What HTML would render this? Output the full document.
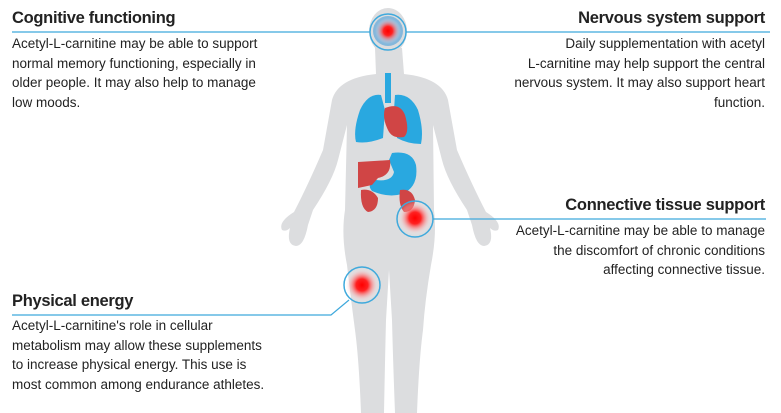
<!DOCTYPE html>
<html><head><style>
body{margin:0;width:781px;height:413px;background:#fff;overflow:hidden;position:relative;font-family:"Liberation Sans",sans-serif;color:#222}
.t{position:absolute;font-weight:bold;font-size:16.5px;letter-spacing:-0.3px}
.p{position:absolute;font-size:13.5px;line-height:19.7px}
.r{text-align:right}
svg{position:absolute;left:0;top:0}
</style></head><body>
<svg width="781" height="413" viewBox="0 0 781 413">
<defs>
<radialGradient id="g"><stop offset="0" stop-color="#f00"/><stop offset="0.35" stop-color="#f22"/><stop offset="1" stop-color="#fff" stop-opacity="0"/></radialGradient>
</defs>
<g fill="#dcdddf">
<ellipse cx="388" cy="31" rx="19" ry="23"/>
<path d="M375 48 L402 48 L404 74 Q442 78 448 100 L457 150 Q472 185 486 212 Q502 222 498 230 Q494 232 490 228 Q494 245 484 246 Q476 246 472 225 L467 210 Q447 180 442 160 L433 125 L434 210 Q437 235 431 265 Q425 300 423 330 Q419 360 417 413 L395 413 Q393 360 392 320 L389 270 L386 320 Q385 360 384 413 L361 413 Q359 360 355 330 Q351 300 347 265 Q341 235 345 210 L347 125 L338 160 Q333 180 313 210 L308 225 Q304 246 296 246 Q286 245 290 228 Q286 232 282 230 Q278 222 294 212 Q308 185 323 150 L332 100 Q338 78 376 74 Z"/>
</g>
<g fill="#29a8e0">
<rect x="385" y="73" width="6" height="30"/>
<path d="M381 95 Q368 93 360 110 Q353 130 356 142 Q368 144 383 138 L385 110 Z"/>
<path d="M395 95 Q410 93 418 110 Q424 130 421 144 Q408 144 397 138 L394 110 Z"/>
<path d="M392 153 Q412 150 416 165 Q419 187 402 194 Q388 198 372 191 Q366 184 376 180 Q392 182 394 172 L389 160 Z"/>
</g>
<g fill="#d04545">
<path d="M385 108 Q400 102 405 115 Q410 132 404 137 Q392 139 388 130 Q382 118 385 108 Z"/>
<path d="M358 162 L390 160 Q392 175 378 178 L372 185 L358 188 Z"/>
<path d="M361 190 Q372 188 378 198 Q378 211 368 212 Q360 208 361 190 Z"/>
<path d="M400 190 Q412 188 415 200 Q414 212 404 212 Q398 205 400 190 Z"/>
</g>
<g fill="none" stroke="#3fa9dc" stroke-width="1.2">
<line x1="12" y1="32" x2="370" y2="32"/>
<line x1="406" y1="32" x2="770" y2="32"/>
<line x1="433" y1="219" x2="766" y2="219"/>
<polyline points="349,300 331,315 12,315"/>
</g>
<circle cx="388" cy="31" r="15" fill="#4a9fd8" opacity="0.6"/>
<circle cx="388" cy="31" r="13" fill="url(#g)"/>
<circle cx="415" cy="218" r="17" fill="url(#g)"/>
<circle cx="362" cy="285" r="17" fill="url(#g)"/>
<g fill="none" stroke="#3fa9dc" stroke-width="1.5">
<circle cx="388" cy="32" r="18"/>
<circle cx="415" cy="219" r="18"/>
<circle cx="362" cy="285" r="18"/>
</g>
</svg>
<div class="t" style="left:12px;top:9px">Cognitive functioning</div>
<div class="p" style="left:12px;top:34px">Acetyl-L-carnitine may be able to support<br>normal memory functioning, especially in<br>older people. It may also help to manage<br>low moods.</div>
<div class="t r" style="right:16px;top:9px">Nervous system support</div>
<div class="p r" style="right:16px;top:34px">Daily supplementation with acetyl<br>L-carnitine may help support the central<br>nervous system. It may also support heart<br>function.</div>
<div class="t r" style="right:16px;top:196px">Connective tissue support</div>
<div class="p r" style="right:16px;top:221px">Acetyl-L-carnitine may be able to manage<br>the discomfort of chronic conditions<br>affecting connective tissue.</div>
<div class="t" style="left:12px;top:292px">Physical energy</div>
<div class="p" style="left:12px;top:316px">Acetyl-L-carnitine's role in cellular<br>metabolism may allow these supplements<br>to increase physical energy. This use is<br>most common among endurance athletes.</div>
</body></html>
